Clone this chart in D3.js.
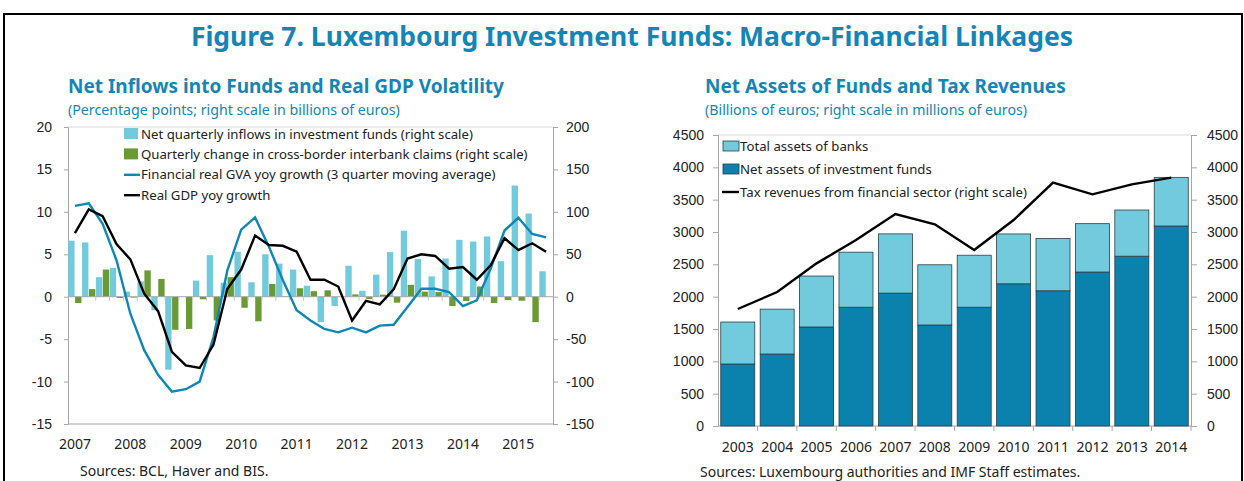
<!DOCTYPE html>
<html>
<head>
<meta charset="utf-8">
<script src="https://cdn.jsdelivr.net/npm/d3@7"></script>
<style>
  body { margin: 0; background: #fff; }
  svg { display: block; font-family: "Noto Sans", "Open Sans", sans-serif; }
</style>
</head>
<body>
<div id="chart"></div>
<script>
// left panel: quarterly data 2007Q1 - 2015Q3
let quarters = [];
for (let y = 2007; y <= 2015; y++) {
  for (let q = 1; q <= 4; q++) {
    if (y === 2015 && q === 4) break;
    quarters.push(y + 'Q' + q);
  }
}
// billions of euros (right scale)
let inflows = [66, 64, 23, 34, 6, 18, -16, -86, 0, 19, 49, 16.5, 53, 17, 50, 39, 32, 13,
  -30, -11, 36.5, 7, 26, 52.6, 77.8, 44.4, 24, 45, 67, 65, 71, 42, 131, 98, 30];
let interbank = [-7.5, 9, 32, -1.5, -1, 31, 21, -39, -38, -3, -28, 23, -13, -29, 15, 0.5, 10, 6.5,
  7.5, 0, 2.7, -2.7, 2.4, -7, 14, 6, 5.5, -11, -5, 12, -7.5, -4, -4.7, -30, 0];
// percentage points (left scale)
let gvaGrowth = [10.7, 11.0, 8.6, 4.3, -2.0, -6.3, -9.2, -11.2, -10.9, -10.0, -4.75, 3.1, 7.9, 9.35,
  5.9, 1.96, -1.6, -2.8, -3.8, -4.2, -3.65, -4.2, -3.4, -3.3, -1.2, 0.94, 0.94, 0.55, -1.1, -0.43,
  3.3, 7.8, 9.3, 7.4, 7.0];
let gdpGrowth = [7.5, 10.3, 9.5, 6.2, 4.4, 0.35, -1.7, -6.5, -8.1, -8.4, -5.65, 0.94, 3.2, 7.2, 6.1,
  6.0, 5.3, 2.0, 2.0, 1.2, -2.8, -0.5, -0.9, 0.86, 4.5, 5.0, 4.8, 3.3, 3.5, 2.0, 3.7, 6.9, 5.5,
  6.3, 5.3];
let leftTicks = [-15, -10, -5, 0, 5, 10, 15, 20];
let rightTicks = [-150, -100, -50, 0, 50, 100, 150, 200];

// right panel: annual data
let years = ['2003', '2004', '2005', '2006', '2007', '2008', '2009', '2010', '2011', '2012', '2013', '2014'];
let fundAssets = [959, 1113, 1531, 1837, 2055, 1562, 1837, 2199, 2091, 2381, 2626, 3093];
let bankAssets = [649, 694, 788, 851, 916, 931, 804, 771, 808, 748, 714, 752];
let taxRevenue = [1809, 2072, 2515, 2876, 3278, 3119, 2721, 3185, 3763, 3582, 3737, 3840];
let assetTicks = [0, 500, 1000, 1500, 2000, 2500, 3000, 3500, 4000, 4500];

const W = 1244, H = 481;
const blue = '#1585b5';
const lightBlue = '#71cbdd';
const darkBlue = '#0b82ae';
const green = '#6a9a34';
const axisGray = '#a6a6a6';
const plain = d => String(d);

let svg = d3.select('#chart').append('svg')
  .attr('width', W)
  .attr('height', H);

// figure frame
svg.append('path')
  .attr('d', 'M4,481 V14 H1242 V481')
  .attr('fill', 'none')
  .attr('stroke', '#000')
  .attr('stroke-width', 2);

svg.append('text')
  .attr('x', 632).attr('y', 46)
  .attr('text-anchor', 'middle')
  .attr('font-size', 26.5).attr('font-weight', 'bold')
  .attr('fill', blue)
  .text('Figure 7. Luxembourg Investment Funds: Macro-Financial Linkages');

function panelTitle(x, title, sub) {
  svg.append('text')
    .attr('x', x).attr('y', 93)
    .attr('font-size', 19).attr('font-weight', 'bold')
    .attr('fill', blue)
    .text(title);
  svg.append('text')
    .attr('x', x).attr('y', 115)
    .attr('font-size', 14.2)
    .attr('fill', blue)
    .text(sub);
}

function styleAxis(g) {
  g.selectAll('path.domain').attr('stroke', axisGray);
  g.selectAll('.tick line').attr('stroke', axisGray);
  g.selectAll('.tick text').attr('fill', '#222').attr('font-size', 14);
}

// ---------- left panel ----------
panelTitle(68, 'Net Inflows into Funds and Real GDP Volatility',
  '(Percentage points; right scale in billions of euros)');

let L = {left: 68, right: 553, top: 127, bottom: 424};

let x = d3.scaleBand()
  .domain(quarters)
  .range([L.left, L.right]);

let xSub = d3.scaleBand()
  .domain(['inflows', 'interbank'])
  .range([0.2, x.bandwidth() - 0.4])
  .paddingInner(0.08);

let yL = d3.scaleLinear().domain([-15, 20]).range([L.bottom, L.top]);
let yR = d3.scaleLinear().domain([-150, 200]).range([L.bottom, L.top]);

// frame top + bottom
svg.append('line')
  .attr('x1', L.left).attr('x2', L.right)
  .attr('y1', L.top).attr('y2', L.top)
  .attr('stroke', '#d9d9d9');
svg.append('line')
  .attr('x1', L.left).attr('x2', L.right)
  .attr('y1', L.bottom).attr('y2', L.bottom)
  .attr('stroke', axisGray);

let gLeftAx = svg.append('g')
  .attr('transform', 'translate(' + L.left + ',0)')
  .call(d3.axisLeft(yL).tickValues(leftTicks).tickFormat(plain).tickSize(4).tickPadding(12));
styleAxis(gLeftAx);

let gRightAx = svg.append('g')
  .attr('transform', 'translate(' + L.right + ',0)')
  .call(d3.axisRight(yR).tickValues(rightTicks).tickFormat(plain).tickSize(5).tickPadding(8));
styleAxis(gRightAx);

let bars = svg.append('g');
bars.selectAll('rect.inflow')
  .data(inflows)
  .enter()
  .append('rect')
  .attr('class', 'inflow')
  .attr('x', (d, i) => x(quarters[i]) + xSub('inflows'))
  .attr('width', xSub.bandwidth())
  .attr('y', d => yR(Math.max(0, d)))
  .attr('height', d => Math.abs(yR(d) - yR(0)))
  .attr('fill', lightBlue);

bars.selectAll('rect.interbank')
  .data(interbank)
  .enter()
  .append('rect')
  .attr('class', 'interbank')
  .attr('x', (d, i) => x(quarters[i]) + xSub('interbank'))
  .attr('width', xSub.bandwidth())
  .attr('y', d => yR(Math.max(0, d)))
  .attr('height', d => Math.abs(yR(d) - yR(0)))
  .attr('fill', green);

// zero line with quarterly tick marks
svg.append('line')
  .attr('x1', L.left).attr('x2', L.right)
  .attr('y1', yL(0)).attr('y2', yL(0))
  .attr('stroke', axisGray);
svg.append('g').selectAll('line')
  .data(quarters.slice(1))
  .enter()
  .append('line')
  .attr('x1', d => x(d)).attr('x2', d => x(d))
  .attr('y1', yL(0)).attr('y2', yL(0) + 4)
  .attr('stroke', '#c8c8c8');

// year labels
svg.append('g').selectAll('text')
  .data(quarters.filter(q => q.endsWith('Q1')))
  .enter()
  .append('text')
  .attr('x', d => x(d) + x.bandwidth() / 2)
  .attr('y', 449)
  .attr('text-anchor', 'middle')
  .attr('font-size', 14)
  .attr('fill', '#222')
  .text(d => d.slice(0, 4));

let qLine = d3.line()
  .x((d, i) => x(quarters[i]) + x.bandwidth() / 2)
  .y(d => yL(d));

svg.append('path')
  .datum(gvaGrowth)
  .attr('d', qLine)
  .attr('fill', 'none')
  .attr('stroke', '#0f87b6')
  .attr('stroke-width', 2.4);

svg.append('path')
  .datum(gdpGrowth)
  .attr('d', qLine)
  .attr('fill', 'none')
  .attr('stroke', '#000')
  .attr('stroke-width', 2.4);

// legend (left)
let legL = [
  {label: 'Net quarterly inflows in investment funds (right scale)', type: 'rect', color: lightBlue},
  {label: 'Quarterly change in cross-border interbank claims (right scale)', type: 'rect', color: green},
  {label: 'Financial real GVA yoy growth (3 quarter moving average)', type: 'line', color: '#0f87b6'},
  {label: 'Real GDP yoy growth', type: 'line', color: '#000'},
];
let lg = svg.append('g').attr('transform', 'translate(124,134)');
legL.forEach((d, i) => {
  let row = lg.append('g').attr('transform', 'translate(0,' + (i * 20.4) + ')');
  if (d.type === 'rect') {
    row.append('rect').attr('x', 0).attr('y', -6).attr('width', 14).attr('height', 11).attr('fill', d.color);
  } else {
    row.append('line').attr('x1', 0).attr('x2', 16).attr('y1', 0).attr('y2', 0)
      .attr('stroke', d.color).attr('stroke-width', 2.4);
  }
  row.append('text')
    .attr('x', 17).attr('y', 4.5)
    .attr('font-size', 13.2)
    .attr('fill', '#222')
    .text(d.label);
});

svg.append('text')
  .attr('x', 80).attr('y', 476)
  .attr('font-size', 14).attr('fill', '#222')
  .text('Sources: BCL, Haver and BIS.');

// ---------- right panel ----------
panelTitle(705, 'Net Assets of Funds and Tax Revenues',
  '(Billions of euros; right scale in millions of euros)');

let R = {left: 718, right: 1191, top: 135, bottom: 426};

let xr = d3.scaleBand()
  .domain(years)
  .range([R.left, R.right])
  .paddingInner(0.137)
  .paddingOuter(0.07);

let yr = d3.scaleLinear().domain([0, 4500]).range([R.bottom, R.top]);

svg.append('line')
  .attr('x1', R.left).attr('x2', R.right)
  .attr('y1', R.top).attr('y2', R.top)
  .attr('stroke', '#d9d9d9');

let gAxR1 = svg.append('g')
  .attr('transform', 'translate(' + R.left + ',0)')
  .call(d3.axisLeft(yr).tickValues(assetTicks).tickFormat(plain).tickSize(5).tickPadding(9));
styleAxis(gAxR1);

let gAxR2 = svg.append('g')
  .attr('transform', 'translate(' + R.right + ',0)')
  .call(d3.axisRight(yr).tickValues(assetTicks).tickFormat(plain).tickSize(6).tickPadding(10));
styleAxis(gAxR2);

// bottom axis with ticks between bars
svg.append('line')
  .attr('x1', R.left).attr('x2', R.right)
  .attr('y1', R.bottom).attr('y2', R.bottom)
  .attr('stroke', axisGray);
let stepR = xr.step();
svg.append('g').selectAll('line')
  .data(years)
  .enter()
  .append('line')
  .attr('x1', d => xr(d) + xr.bandwidth() + (stepR - xr.bandwidth()) / 2)
  .attr('x2', d => xr(d) + xr.bandwidth() + (stepR - xr.bandwidth()) / 2)
  .attr('y1', R.bottom).attr('y2', R.bottom + 5)
  .attr('stroke', axisGray);
svg.append('g').selectAll('text')
  .data(years)
  .enter()
  .append('text')
  .attr('x', d => xr(d) + xr.bandwidth() / 2)
  .attr('y', 452)
  .attr('text-anchor', 'middle')
  .attr('font-size', 14)
  .attr('fill', '#222')
  .text(d => d);

let yearRows = years.map((yv, i) => ({year: yv, funds: fundAssets[i], banks: bankAssets[i]}));
let stacked = d3.stack().keys(['funds', 'banks'])(yearRows);
let stackColors = {funds: darkBlue, banks: lightBlue};

svg.append('g').selectAll('g')
  .data(stacked)
  .enter()
  .append('g')
  .attr('fill', d => stackColors[d.key])
  .selectAll('rect')
  .data(d => d)
  .enter()
  .append('rect')
  .attr('x', d => xr(d.data.year))
  .attr('width', xr.bandwidth())
  .attr('y', d => yr(d[1]))
  .attr('height', d => yr(d[0]) - yr(d[1]))
  .attr('stroke', '#2d3e45')
  .attr('stroke-width', 0.8);

let taxLine = d3.line()
  .x((d, i) => xr(years[i]) + xr.bandwidth() / 2)
  .y(d => yr(d));

svg.append('path')
  .datum(taxRevenue)
  .attr('d', taxLine)
  .attr('fill', 'none')
  .attr('stroke', '#000')
  .attr('stroke-width', 2.4);

let legR = [
  {label: 'Total assets of banks', type: 'rect', color: lightBlue},
  {label: 'Net assets of investment funds', type: 'rect', color: darkBlue},
  {label: 'Tax revenues from financial sector (right scale)', type: 'line', color: '#000'},
];
let lgr = svg.append('g').attr('transform', 'translate(723,146)');
legR.forEach((d, i) => {
  let row = lgr.append('g').attr('transform', 'translate(0,' + (i * 23) + ')');
  if (d.type === 'rect') {
    row.append('rect').attr('x', 0).attr('y', -5).attr('width', 16).attr('height', 10)
      .attr('fill', d.color).attr('stroke', '#2d3e45').attr('stroke-width', 0.8);
  } else {
    row.append('line').attr('x1', -1).attr('x2', 16).attr('y1', 0).attr('y2', 0)
      .attr('stroke', d.color).attr('stroke-width', 2.4);
  }
  row.append('text')
    .attr('x', 17).attr('y', 4.5)
    .attr('font-size', 13.2)
    .attr('fill', '#222')
    .text(d.label);
});

svg.append('text')
  .attr('x', 700).attr('y', 477)
  .attr('font-size', 14).attr('fill', '#222')
  .text('Sources: Luxembourg authorities and IMF Staff estimates.');
</script>
</body>
</html>
